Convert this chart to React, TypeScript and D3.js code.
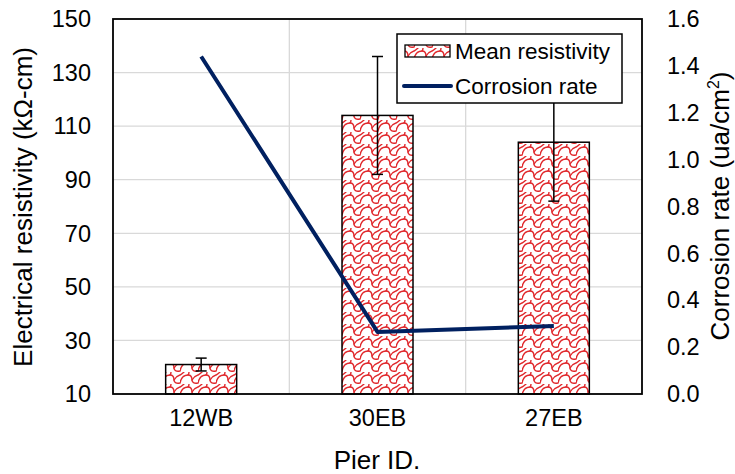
import React from "react";
import * as d3 from "d3";

const categories = ["12WB", "30EB", "27EB"];
const resistivity = [21, 114, 104];
const resistivityErr = [2.4, 22, 22];
const corrosionRate = [1.44, 0.265, 0.29];
const leftTicks = [10, 30, 50, 70, 90, 110, 130, 150];
const rightTicks = [0, 0.2, 0.4, 0.6, 0.8, 1.0, 1.2, 1.4, 1.6];

const W = 735, H = 474;
const M = { left: 113, right: 642, top: 19, bottom: 394 };
const FONT = "'Liberation Sans', Arial, sans-serif";

export default function App() {
  const x = d3.scaleBand<string>().domain(categories).range([M.left, M.right]).paddingInner(0).paddingOuter(0);
  const yL = d3.scaleLinear().domain([10, 150]).range([M.bottom, M.top]);
  const yR = d3.scaleLinear().domain([0, 1.6]).range([M.bottom, M.top]);
  const barW = 71;
  const line = d3
    .line<number>()
    .x((_, i) => (x(categories[i]) as number) + x.bandwidth() / 2)
    .y((d) => yR(d));
  const boundaries = categories.slice(1).map((c) => x(c) as number);

  return (
    <svg width={W} height={H} style={{ position: "absolute", left: 0, top: 0, background: "#fff" }} fontFamily={FONT}>
      <defs>
        <pattern id="shingle" patternUnits="userSpaceOnUse" width={18} height={12}>
          <rect width={18} height={12} fill="#fff" />
          <g fill="none" stroke="#e0262a" strokeWidth={1.4} strokeLinecap="round">
            <path d="M0,11 C1,6 4,3 8,3 C11,3 12,5 12,8 C12,10 14,12 18,11" />
            <path d="M12,8 C13,6 15,4 18,3" />
            <path d="M0,3 C2,2 3,1 4,0" />
            <path d="M8,3 C9,2 9,1 9,0" />
          </g>
        </pattern>
      </defs>
      <rect width={W} height={H} fill="#fff" />
      {leftTicks.slice(1, -1).map((t) => (
        <line key={t} x1={M.left} x2={M.right} y1={yL(t)} y2={yL(t)} stroke="#d9d9d9" strokeWidth={1.3} />
      ))}
      {boundaries.map((b) => (
        <line key={b} x1={b} x2={b} y1={M.top} y2={M.bottom} stroke="#d9d9d9" strokeWidth={1.3} />
      ))}
      {categories.map((c, i) => {
        const cx = (x(c) as number) + x.bandwidth() / 2;
        return (
          <rect key={c} x={cx - barW / 2} y={yL(resistivity[i])} width={barW} height={M.bottom - yL(resistivity[i])}
            fill="url(#shingle)" stroke="#000" strokeWidth={1.5} />
        );
      })}
      {categories.map((c, i) => {
        const cx = (x(c) as number) + x.bandwidth() / 2;
        const y1 = yL(resistivity[i] + resistivityErr[i]);
        const y2 = yL(resistivity[i] - resistivityErr[i]);
        return (
          <g key={c} stroke="#000" strokeWidth={1.5}>
            <line x1={cx} x2={cx} y1={y1} y2={y2} />
            <line x1={cx - 5.5} x2={cx + 5.5} y1={y1} y2={y1} />
            <line x1={cx - 5.5} x2={cx + 5.5} y1={y2} y2={y2} />
          </g>
        );
      })}
      <path d={line(corrosionRate) as string} fill="none" stroke="#002060" strokeWidth={4} strokeLinejoin="round" />
      <rect x={M.left} y={M.top} width={M.right - M.left} height={M.bottom - M.top} fill="none" stroke="#000" strokeWidth={1.8} />
      {leftTicks.map((t) => (
        <text key={t} x={M.left - 22} y={yL(t)} dy="0.35em" textAnchor="end" fontSize={23.5} fill="#000">{t}</text>
      ))}
      {rightTicks.map((t) => (
        <text key={t} x={M.right + 25} y={yR(t)} dy="0.35em" textAnchor="start" fontSize={23.5} fill="#000">{d3.format(".1f")(t)}</text>
      ))}
      {categories.map((c) => (
        <text key={c} x={(x(c) as number) + x.bandwidth() / 2} y={M.bottom + 32} textAnchor="middle" fontSize={23.5} fill="#000">{c}</text>
      ))}
      <text x={377} y={469} textAnchor="middle" fontSize={26} fill="#000">Pier ID.</text>
      <text transform="translate(32,207) rotate(-90)" textAnchor="middle" fontSize={26} fill="#000">Electrical resistivity (kΩ-cm)</text>
      <text transform="translate(729,206) rotate(-90)" textAnchor="middle" fontSize={26} fill="#000">
        Corrosion rate (ua/cm<tspan dy={-10} fontSize={16}>2</tspan><tspan dy={10}>)</tspan>
      </text>
      <g>
        <rect x={397} y={34} width={225} height={69} fill="#fff" stroke="#000" strokeWidth={1.5} />
        <rect x={405} y={45} width={45} height={12} fill="url(#shingle)" stroke="#000" strokeWidth={1.3} />
        <text x={455} y={51} dy="0.35em" fontSize={22.5} fill="#000">Mean resistivity</text>
        <line x1={404} x2={451} y1={86} y2={86} stroke="#002060" strokeWidth={4} strokeLinecap="round" />
        <text x={455} y={86} dy="0.35em" fontSize={22.5} fill="#000">Corrosion rate</text>
      </g>
    </svg>
  );
}
